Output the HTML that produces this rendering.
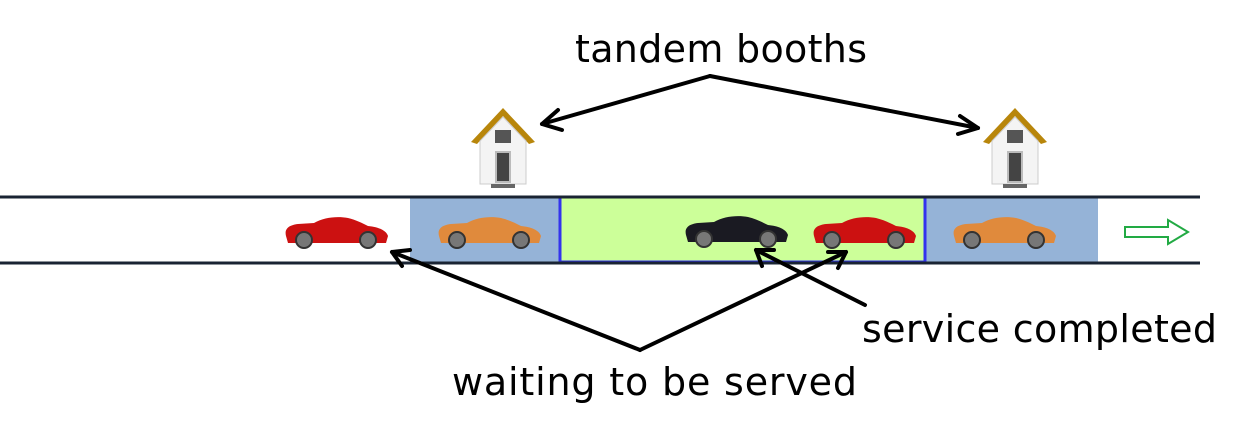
<!DOCTYPE html>
<html><head><style>
body{margin:0;width:1250px;height:440px;background:#fff;overflow:hidden;font-family:"DejaVu Sans","Liberation Sans",sans-serif;}
</style></head><body>
<svg width="1250" height="440" xmlns="http://www.w3.org/2000/svg">
<defs>
<g id="car">
<path d="M2,22 C0,14 6,11 14,10 L30,9 C40,3 54,2 64,4 C72,6 78,9 84,12 C94,13 102,16 104,22 L102,29 L4,29 Z"/>
<circle cx="20" cy="26" r="8" fill="#777" stroke="#333" stroke-width="2"/>
<circle cx="84" cy="26" r="8" fill="#777" stroke="#333" stroke-width="2"/>
</g>
<g id="house">
<polygon points="0,34 32,0 64,34 58,36 32,8 6,36" fill="#b8860b"/>
<polygon points="9,33 32,9 55,33 55,76 9,76" fill="#f4f4f4" stroke="#ccc"/>
<rect x="24" y="22" width="16" height="13" fill="#555"/>
<rect x="25" y="44" width="14" height="30" fill="#444" stroke="#bbb" stroke-width="2"/>
<rect x="20" y="76" width="24" height="4" fill="#666"/>
</g>
</defs>
<rect x="410" y="198" width="149" height="64" fill="#95b3d7"/>
<rect x="925" y="198" width="173" height="64" fill="#95b3d7"/>
<rect x="560" y="197" width="365" height="65" fill="#ccff99" stroke="#3333ee" stroke-width="3"/>
<line x1="0" y1="197" x2="1200" y2="197" stroke="#1a2433" stroke-width="3"/>
<line x1="0" y1="263" x2="1200" y2="263" stroke="#1a2433" stroke-width="3"/>
<use href="#house" x="471" y="108"/>
<use href="#house" x="983" y="108"/>
<g fill="#cc1111"><use href="#car" transform="translate(284,214)"/></g>
<g fill="#e08a3c"><use href="#car" transform="translate(437,214)"/></g>
<g fill="#1a1a22"><use href="#car" transform="translate(684,213)"/></g>
<g fill="#cc1111"><use href="#car" transform="translate(812,214)"/></g>
<g fill="#e08a3c"><use href="#car" transform="translate(952,214)"/></g>
<polygon points="1125,227 1168,227 1168,220 1188,232 1168,244 1168,237 1125,237" fill="none" stroke="#22aa44" stroke-width="2"/>
<g stroke="#000" stroke-width="4" fill="none" stroke-linecap="round" stroke-linejoin="round">
<line x1="710" y1="76" x2="542" y2="124"/><polyline points="558,110 542,124 562,130"/>
<line x1="710" y1="76" x2="978" y2="128"/><polyline points="960,116 978,128 958,134"/>
<line x1="640" y1="350" x2="392" y2="252"/><polyline points="402,266 392,252 410,250"/>
<line x1="640" y1="350" x2="846" y2="252"/><polyline points="828,252 846,252 838,268"/>
<line x1="865" y1="305" x2="756" y2="250"/><polyline points="762,266 756,250 774,250"/>
</g>
<g font-size="38" fill="#000">
<text x="575" y="62" textLength="292">tandem booths</text>
<text x="862" y="342" textLength="355">service completed</text>
<text x="452" y="395" textLength="405">waiting to be served</text>
</g>
</svg>
</body></html>
